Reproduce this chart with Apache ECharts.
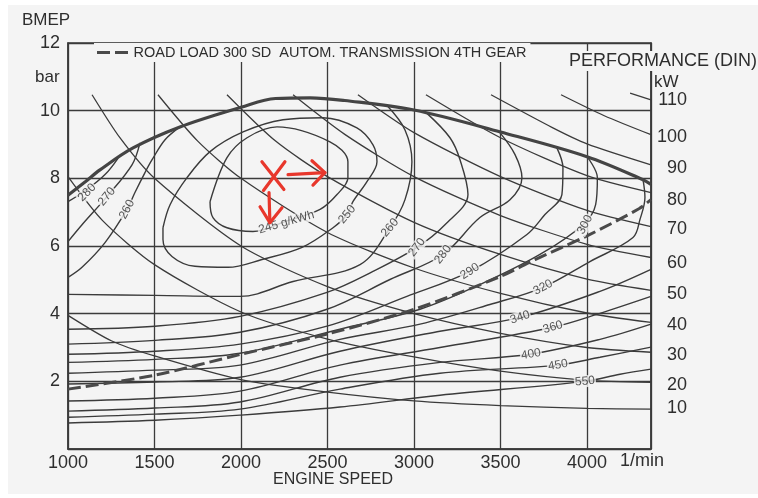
<!DOCTYPE html>
<html>
<head>
<meta charset="utf-8">
<script src="https://cdn.jsdelivr.net/npm/echarts@6/dist/echarts.min.js"></script>
<style>
  html, body { margin: 0; padding: 0; background: #fff; }
  #chart { width: 758px; height: 498px; }
</style>
</head>
<body>
<div id="chart"></div>
<script>
// engine speed [1/min] vs BMEP [bar]
const rpmMin = 1000;
const rpmMax = 4370;

const fullLoad = [[1000,7.5],[1100,7.9],[1185,8.25],[1376,8.9],[1647,9.52],[2000,10.1],[2200,10.36],[2400,10.38],[2600,10.3],[3000,10.02],[3500,9.37],[4000,8.64],[4324,7.96],[4370,7.82]];
const roadLoad = [[1000,1.77],[1500,2.18],[2000,2.8],[2500,3.4],[3000,4.13],[3500,5.1],[3700,5.6],[4000,6.3],[4300,7.1],[4370,7.37]];
const roadLoadName = 'ROAD LOAD 300 SD  AUTOM. TRANSMISSION 4TH GEAR';

// fuel consumption contours (g/kWh)
const bsfc245 = [[1821,7.31],[1919,8.61],[2035,9.2],[2208,9.52],[2514,9.08],[2618,8.49],[2618,8.02],[2555,7.52],[2457,7.08],[2254,6.72],[2069,6.43],[1919,6.54],[1838,6.84],[1821,7.31]];
const bsfc250 = [[1549,6.54],[1590,7.22],[1688,8.02],[1821,8.79],[2012,9.37],[2243,9.73],[2474,9.79],[2670,9.49],[2763,8.99],[2786,8.49],[2728,7.9],[2647,7.31],[2613,6.93],[2532,6.54],[2353,5.96],[2121,5.6],[1925,5.37],[1734,5.4],[1601,5.69],[1549,6.19],[1549,6.54]];
const bsfc260Left = [[1000,5.07],[1081,5.37],[1214,6.1],[1341,7.08],[1387,7.58],[1445,8.17],[1486,8.55],[1561,9.14],[1647,9.52]];
const bsfc260 = [[2844,10.15],[2948,9.43],[2988,8.49],[2948,7.37],[2861,6.54],[2688,5.45],[2301,4.95],[1994,4.51],[1503,4.54],[1000,4.57]];
const bsfc270Left = [[1000,6.13],[1081,6.63],[1225,7.46],[1370,8.4],[1416,9.05]];
const bsfc270 = [[3075,9.92],[3208,9.2],[3266,8.55],[3312,7.52],[3179,6.63],[3017,5.96],[2763,5.25],[2497,4.63],[1994,3.92],[1503,3.63],[1000,3.54]];
const bsfc280Left = [[1000,7.31],[1110,7.67],[1214,8.11],[1290,8.6]];
const bsfc280 = [[3497,9.35],[3584,8.7],[3624,8.02],[3555,7.37],[3381,6.84],[3168,5.75],[2861,5.01],[2497,4.13],[1994,3.45],[1503,3.21],[1000,3.1]];
const bsfc290 = [[3826,8.9],[3861,8.31],[3855,7.52],[3757,6.93],[3653,6.34],[3323,5.25],[2959,4.51],[2497,3.63],[1994,3.1],[1503,2.89],[1000,2.8]];
const bsfc300 = [[4000,8.64],[4060,8.02],[4050,7.22],[3977,6.63],[3728,5.75],[3381,4.86],[3035,4.13],[2572,3.54],[1994,2.83],[1503,2.65],[1000,2.56]];
const bsfc320 = [[4324,7.96],[4335,7.43],[4306,6.78],[4266,6.25],[4017,5.54],[3746,4.78],[3439,4.27],[3035,3.69],[2572,3.24],[1994,2.48],[1503,2.33],[1000,2.24]];
const bsfc340 = [[1000,1.92],[1503,1.98],[1994,2.12],[2572,2.89],[3150,3.48],[3613,3.89],[4075,4.66],[4370,5.31]];
const bsfc360 = [[1000,1.42],[1503,1.5],[1994,1.71],[2572,2.48],[3150,3.0],[3803,3.6],[4075,4.01],[4370,4.51]];
const bsfc400 = [[1000,1.12],[1503,1.21],[1994,1.39],[2572,2.12],[3150,2.56],[3670,2.8],[4075,3.24],[4370,3.69]];
const bsfc450 = [[1000,0.94],[1503,1.03],[1994,1.18],[2572,1.77],[3150,2.24],[3832,2.48],[4075,2.71],[4370,3.01]];
const bsfc550 = [[1000,0.77],[1503,0.85],[1994,1.0],[2572,1.24],[3150,1.59],[3988,2.0],[4191,2.21],[4370,2.36]];

// constant power lines (kW)
const kw10 = [[1000,3.95],[1250,3.2],[1500,2.75],[2000,2.05],[2500,1.68],[3000,1.42],[3500,1.28],[4000,1.2],[4370,1.18]];
const kw20 = [[1000,8.05],[1200,6.75],[1500,5.45],[2000,4.05],[2500,3.25],[3000,2.72],[3500,2.3],[4000,2.03],[4370,1.97]];
const kw30 = [[1139,10.47],[1300,9.2],[1500,8.0],[2000,6.0],[2500,4.8],[3000,4.0],[3500,3.42],[4000,3.0],[4370,2.86]];
const kw40 = [[1520,10.47],[1750,9.1],[2000,8.0],[2500,6.4],[3000,5.35],[3500,4.6],[4000,4.02],[4370,3.74]];
const kw50 = [[1919,10.47],[2200,9.1],[2500,8.05],[3000,6.7],[3500,5.75],[4000,5.02],[4370,4.69]];
const kw60 = [[2301,10.47],[2600,9.3],[3000,8.05],[3500,6.9],[4000,6.05],[4370,5.66]];
const kw70 = [[2676,10.47],[3000,9.35],[3500,8.05],[4000,7.05],[4370,6.57]];
const kw80 = [[3069,10.47],[3500,9.2],[4000,8.08],[4370,7.58]];
const kw90 = [[3445,10.47],[3800,9.5],[4000,9.02],[4370,8.4]];
const kw100 = [[3850,10.47],[4100,9.85],[4370,9.29]];
const kw110 = [[4249,10.52],[4370,10.32]];

// right hand kW scale: label heights (bar) and texts
const kwTickBar = [1.21,1.89,2.77,3.66,4.57,5.51,6.49,7.37,8.31,9.23,10.32];
const kwTickLabels = ['10','20','30','40','50','60','70','80','90','100','110'];

// contour labels
const contourLabels = ['280','270','260','245 g/kWh','250','260','270','280','290','300','320','340','360','400','450','550'];
const contourLabelPos = [[1110,7.58],[1225,7.46],[1341,7.08],[2262,6.7],[2613,6.93],[2861,6.54],[3017,5.96],[3168,5.75],[3323,5.25],[3988,6.63],[3746,4.78],[3613,3.89],[3803,3.6],[3676,2.8],[3832,2.48],[3988,2.0]];
const contourLabelAngle = [45,50,62,16,50,50,52,52,33,62,28,18,17,10,10,5];

// red hand-drawn marks
const markX = [[[2121,8.49],[2248,7.67]],[[2254,8.49],[2130,7.64]]];
const markArrows = [
  [[2272,8.11],[2485,8.17]],
  [[2410,8.52],[2485,8.17],[2416,7.8]],
  [[2162,7.58],[2167,6.69]],
  [[2110,7.16],[2167,6.69],[2237,7.13]]
];

const INK = '#3b3b3b';
const TEXT = '#2e2e2e';
const PAPER = '#f4f4f4';
const FONT = '"Liberation Sans", Arial, sans-serif';

const chart = echarts.init(document.getElementById('chart'));

function curve(data, width, extra) {
  return Object.assign({
    type: 'line',
    data: data,
    smooth: 0.35,
    symbol: 'none',
    silent: true,
    clip: true,
    color: INK,
    lineStyle: { color: INK, width: width },
    z: 2
  }, extra || {});
}

const contourSeries = [bsfc245, bsfc250, bsfc260Left, bsfc260, bsfc270Left, bsfc270, bsfc280Left, bsfc280,
  bsfc290, bsfc300, bsfc320, bsfc340, bsfc360, bsfc400, bsfc450, bsfc550].map(d => curve(d, 1.4));
const powerSeries = [kw10, kw20, kw30, kw40, kw50, kw60, kw70, kw80, kw90, kw100, kw110].map(d => curve(d, 1.3, { smooth: 0.25 }));

chart.setOption({
  animation: false,
  backgroundColor: '#fff',
  textStyle: { fontFamily: FONT },
  graphic: [
    { type: 'rect', z: -10, silent: true, shape: { x: 8, y: 5, width: 750, height: 489 }, style: { fill: PAPER } },
    { type: 'text', left: 22, top: 12, style: { text: 'BMEP', fontSize: 17, fill: TEXT, fontFamily: FONT } },
    { type: 'text', left: 35, top: 69, style: { text: 'bar', fontSize: 17, fill: TEXT, fontFamily: FONT } },
    { type: 'text', left: 654, top: 74, z: 10, style: { text: 'kW', fontSize: 17, fill: TEXT, fontFamily: FONT } },
    { type: 'text', left: 567, top: 51, z: 10, style: { text: 'PERFORMANCE (DIN)', fontSize: 18, fill: TEXT, fontFamily: FONT, backgroundColor: PAPER, padding: [1, 0, 1, 2] } },
    { type: 'text', left: 620, top: 452, style: { text: '1/min', fontSize: 18, fill: TEXT, fontFamily: FONT } },
    { type: 'text', left: 273, top: 472, style: { text: 'ENGINE SPEED', fontSize: 16, fill: TEXT, fontFamily: FONT } }
  ],
  legend: {
    data: [{ name: roadLoadName, icon: 'path://M0,0H13V3H0Z M18,0H31V3H18Z' }],
    left: 94,
    top: 43,
    itemWidth: 32,
    itemHeight: 3,
    itemGap: 4,
    padding: [2, 4, 2, 3],
    backgroundColor: PAPER,
    selectedMode: false,
    itemStyle: { color: '#4a4a4a' },
    textStyle: { fontSize: 14.5, color: TEXT, fontFamily: FONT }
  },
  grid: {
    left: 68, right: 107, top: 43, bottom: 49,
    show: true, borderColor: INK, borderWidth: 1.5, backgroundColor: 'transparent'
  },
  xAxis: {
    type: 'value',
    min: rpmMin, max: rpmMax, interval: 500,
    axisLine: { show: true, lineStyle: { color: INK, width: 1.5 } },
    axisTick: { show: false },
    splitLine: { show: true, lineStyle: { color: INK, width: 1.3 } },
    axisLabel: {
      color: TEXT, fontSize: 18, margin: 5, fontFamily: FONT,
      showMaxLabel: false,
      formatter: v => (v % 500 === 0 ? String(v) : '')
    }
  },
  yAxis: [
    {
      type: 'value',
      min: 0, max: 12, interval: 2,
      axisLine: { show: true, lineStyle: { color: INK, width: 1.5 } },
      axisTick: { show: false },
      splitLine: { show: true, lineStyle: { color: INK, width: 1.3 } },
      axisLabel: {
        color: TEXT, fontSize: 18, margin: 8, fontFamily: FONT,
        formatter: v => (v === 0 ? '' : String(v))
      }
    },
    {
      type: 'value',
      position: 'right',
      min: 0, max: 12,
      axisLine: { show: true, lineStyle: { color: INK, width: 1.5 } },
      axisTick: { show: false },
      splitLine: { show: false },
      axisLabel: {
        customValues: kwTickBar,
        color: TEXT, fontSize: 18, margin: 36, align: 'right', fontFamily: FONT,
        formatter: v => {
          const i = kwTickBar.findIndex(b => Math.abs(b - v) < 1e-6);
          return i >= 0 ? kwTickLabels[i] : '';
        }
      }
    }
  ],
  series: [
    ...powerSeries,
    ...contourSeries,
    curve(fullLoad, 3, { lineStyle: { color: '#444', width: 3.2 }, z: 3 }),
    curve(roadLoad, 3, { name: roadLoadName, smooth: 0.3, color: '#4a4a4a', lineStyle: { color: '#4a4a4a', width: 3, type: [13, 5] }, z: 3 }),
    {
      type: 'scatter',
      silent: true,
      symbolSize: 0,
      z: 6,
      data: contourLabels.map((t, i) => ({
        value: contourLabelPos[i],
        name: t,
        label: { rotate: contourLabelAngle[i] }
      })),
      label: {
        show: true,
        position: 'inside',
        formatter: p => p.name,
        fontSize: 12,
        color: TEXT,
        fontFamily: FONT,
        backgroundColor: PAPER,
        padding: [0, 1]
      }
    },
    {
      type: 'lines',
      coordinateSystem: 'cartesian2d',
      polyline: true,
      silent: true,
      z: 8,
      lineStyle: { color: '#e8372c', width: 3.2, opacity: 1, cap: 'round', join: 'round' },
      data: markX.concat(markArrows).map(c => ({ coords: c }))
    }
  ]
});
</script>
</body>
</html>
